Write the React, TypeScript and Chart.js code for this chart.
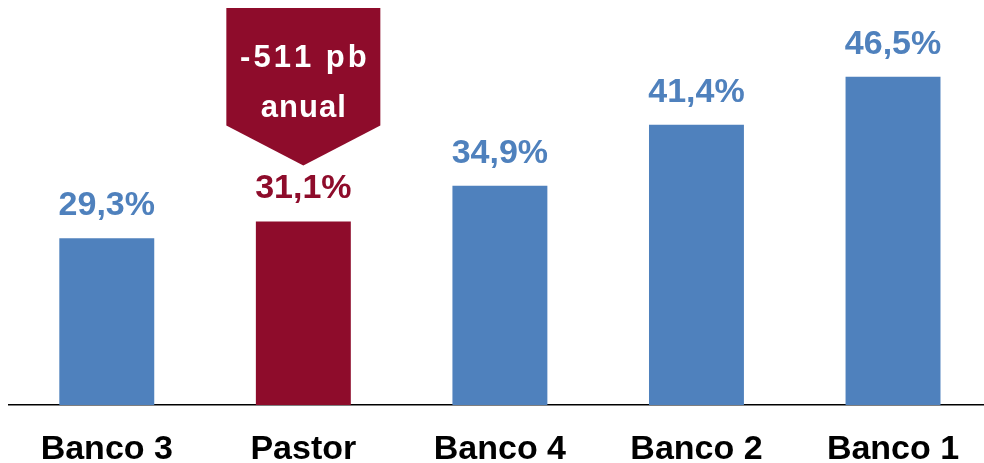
import React, { useEffect, useRef } from "react";
import { Chart, registerables } from "chart.js";

Chart.register(...registerables);

const categories = ["Banco 3", "Pastor", "Banco 4", "Banco 2", "Banco 1"];
const values = [29.3, 31.1, 34.9, 41.4, 46.5];
const highlightIndex = 1;
const annotationLines = ["-511 pb", "anual"];

const BLUE = "#4F81BD";
const RED = "#8E0C2B";
const FONT = "'Liberation Sans', Arial, sans-serif";

const fmt = (v: number) => v.toFixed(1).replace(".", ",") + "%";

const labelsPlugin = {
  id: "customLabels",
  afterDraw(chart: any) {
    const ctx = chart.ctx;
    const meta = chart.getDatasetMeta(0);
    const xScale = chart.scales.x;
    ctx.save();
    // value labels
    ctx.font = `bold 34px ${FONT}`;
    ctx.textAlign = "center";
    ctx.textBaseline = "alphabetic";
    meta.data.forEach((bar: any, i: number) => {
      ctx.fillStyle = i === highlightIndex ? RED : BLUE;
      ctx.fillText(fmt(values[i]), bar.x, bar.y - 23);
    });
    // category labels
    ctx.fillStyle = "#000000";
    ctx.font = `bold 34px ${FONT}`;
    categories.forEach((c, i) => {
      const x = xScale.getPixelForValue(i);
      ctx.fillText(c, x, chart.chartArea.bottom + 54);
    });
    // arrow annotation
    const hb = meta.data[highlightIndex];
    const cx = hb.x;
    const halfW = 77;
    const top = 8;
    const shoulder = hb.y - 96;
    const tip = hb.y - 56;
    ctx.fillStyle = RED;
    ctx.beginPath();
    ctx.moveTo(cx - halfW, top);
    ctx.lineTo(cx + halfW, top);
    ctx.lineTo(cx + halfW, shoulder);
    ctx.lineTo(cx, tip);
    ctx.lineTo(cx - halfW, shoulder);
    ctx.closePath();
    ctx.fill();
    ctx.fillStyle = "#FFFFFF";
    ctx.textAlign = "left";
    const drawSpaced = (text: string, y: number, size: number, spacing: number) => {
      ctx.font = `bold ${size}px ${FONT}`;
      let total = 0;
      const widths = Array.from(text).map((ch) => ctx.measureText(ch).width);
      widths.forEach((w, k) => {
        total += w + (k < widths.length - 1 ? spacing : 0);
      });
      let x = cx - total / 2;
      Array.from(text).forEach((ch, k) => {
        ctx.fillText(ch, x, y);
        x += widths[k] + spacing;
      });
    };
    drawSpaced(annotationLines[0], 67, 31, 3);
    drawSpaced(annotationLines[1], 117, 31, 1);
    ctx.restore();
  },
};

export default function App() {
  const canvasRef = useRef<HTMLCanvasElement | null>(null);

  useEffect(() => {
    if (!canvasRef.current) return;
    const chart = new Chart(canvasRef.current, {
      type: "bar",
      data: {
        labels: categories,
        datasets: [
          {
            data: values,
            backgroundColor: values.map((_, i) => (i === highlightIndex ? RED : BLUE)),
            borderWidth: 0,
            barPercentage: 0.483,
            categoryPercentage: 1,
          },
        ],
      },
      options: {
        animation: false,
        responsive: false,
        devicePixelRatio: 1,
        layout: { padding: { left: 8.5, right: 8.7, top: 43.9, bottom: 58 } },
        plugins: { legend: { display: false }, tooltip: { enabled: false } },
        scales: {
          x: {
            display: true,
            grid: { display: false, drawTicks: false },
            border: { display: true, color: "#000000", width: 1.5 },
            ticks: { display: false },
            afterFit: (s: any) => {
              s.height = 0;
            },
          },
          y: {
            display: false,
            min: 11.56,
            max: 50,
          },
        },
      },
      plugins: [labelsPlugin],
    });
    return () => chart.destroy();
  }, []);

  return (
    <div
      style={{
        position: "fixed",
        left: 0,
        top: 0,
        width: 984,
        height: 463,
        overflow: "hidden",
        background: "#FFFFFF",
      }}
    >
      <canvas ref={canvasRef} width={1000} height={463} style={{ display: "block" }} />
    </div>
  );
}
